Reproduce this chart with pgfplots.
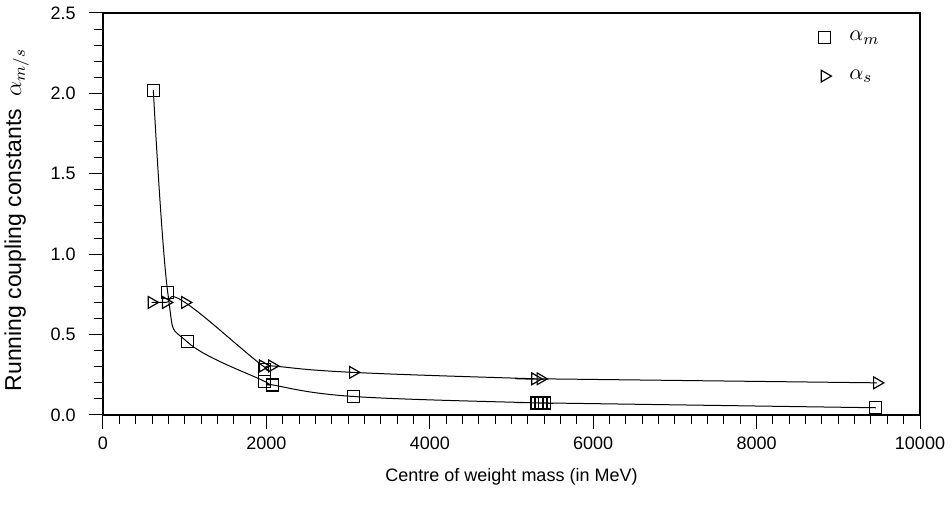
\documentclass[border=0pt]{standalone}
\usepackage{fontspec}
\setmainfont{Liberation Sans}
\usepackage{pgfplots}
\pgfplotsset{compat=1.18}

\begin{document}
\begin{tikzpicture}
\begin{axis}[
  scale only axis,
  width=408.5pt, height=201pt,
  xmin=0, xmax=10000, ymin=0, ymax=2.5,
  xtick={0,2000,4000,6000,8000,10000},
  ytick={0,0.5,1.0,1.5,2.0,2.5},
  scaled x ticks=false,
  minor x tick num=9,
  minor y tick num=4,
  tick align=outside,
  tick pos=left,
  tick style={black, line width=0.5pt},
  major tick length=7.2pt, minor tick length=4.5pt,
  axis line style={black, line width=0.7pt},
  clip=false,
  /pgf/number format/assume math mode=true,
  tick label style={font=\fontsize{9}{11}\selectfont},
  x tick label style={/pgf/number format/1000 sep={}},
  y tick label style={/pgf/number format/fixed, /pgf/number format/fixed zerofill,
    /pgf/number format/precision=1, xshift=-3pt},
  xlabel={Centre of weight mass (in MeV)},
  ylabel={Running coupling constants\ \ $\alpha_{m/s}$},
  xlabel style={font=\fontsize{9}{11}\selectfont, yshift=-3pt},
  ylabel style={font=\fontsize{11.5}{13}\selectfont, at={(ticklabel cs:0.485)}, yshift=4pt},
  legend style={draw=none, fill=none, at={(0.868,0.975)}, anchor=north west,
    font=\fontsize{11}{13}\selectfont, row sep=9pt,
    /tikz/every odd column/.append style={column sep=7pt}},
  legend cell align=left,
]
\addlegendimage{only marks, mark=square, mark size=3pt, mark options={line width=0.6pt}}
\addlegendentry{$\alpha_m$}
\addlegendimage{only marks, mark=triangle, mark size=3.4pt, mark options={rotate=-90, line width=0.6pt}}
\addlegendentry{$\alpha_s$}

\draw[black, line width=0.7pt] (rel axis cs:0,0) rectangle (rel axis cs:1,1);

% alpha_m
\addplot[black, line width=0.5pt, smooth, tension=0.65, mark=square, mark size=3pt,
  mark options={line width=0.6pt}, forget plot] coordinates {
  (616,2.02) (793,0.76) (1030,0.455) (1974,0.21) (2076,0.187)
  (3068,0.115) (5313,0.075) (5360,0.075) (5403,0.075) (9460,0.045)
};
\addplot[black, only marks, mark=square, mark size=3pt,
  mark options={line width=0.6pt}, forget plot] coordinates {
  (1974,0.285)
};
% alpha_s
\addplot[black, line width=0.5pt, smooth, tension=0.75, mark=triangle, mark size=3.4pt,
  mark options={rotate=-90, line width=0.6pt}, forget plot] coordinates {
  (596,0.70) (771,0.70) (1004,0.70) (1958,0.305) (2069,0.305)
  (3060,0.265) (5290,0.225) (5355,0.225) (9474,0.20)
};
\end{axis}
\pgfresetboundingbox
\path (current axis.south west) ++(-51.5pt,-46pt) rectangle ++(476pt,253.5pt);
\end{tikzpicture}
\end{document}
